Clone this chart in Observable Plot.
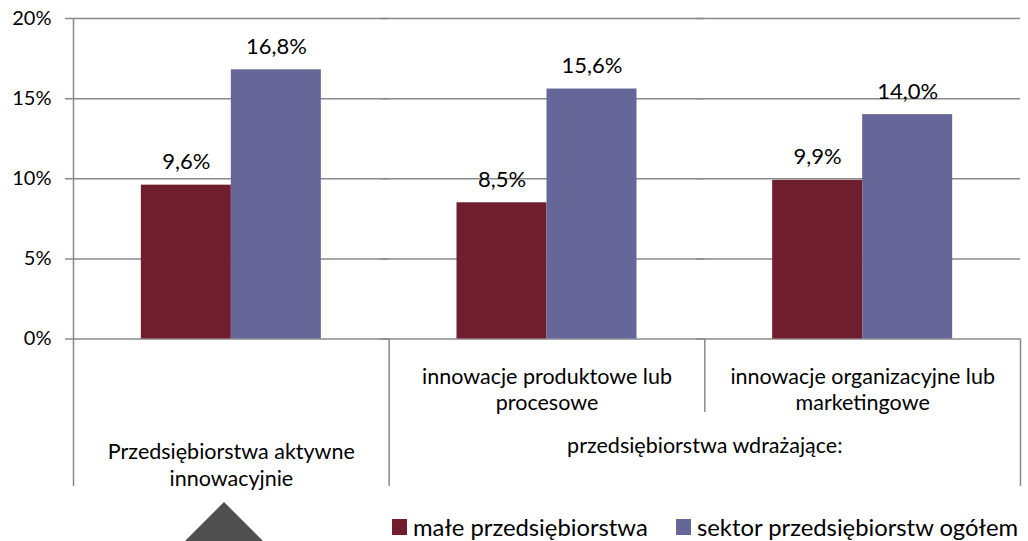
<!DOCTYPE html>
<html>
<head>
<meta charset="utf-8">
<script src="https://cdn.jsdelivr.net/npm/d3@7"></script>
<script src="https://cdn.jsdelivr.net/npm/@observablehq/plot@0.6"></script>
<style>
  html, body { margin: 0; padding: 0; background: #fff; }
  #wrap { position: relative; width: 1028px; height: 541px; overflow: hidden; font-family: Lato, sans-serif; color: #000; }
  #wrap svg { display: block; }
  .leg { position: absolute; top: 512px; height: 30px; line-height: 30px; font-size: 23.8px; white-space: nowrap; display: flex; align-items: center; }
  .leg .sw { display: inline-block; width: 15px; height: 16px; margin-right: 6px; }
  #tri { position: absolute; left: 185px; top: 502px; width: 78px; height: 39px; background: #4f4f4f; clip-path: polygon(50% 0, 100% 100%, 0 100%); }
</style>
</head>
<body>
<div id="wrap"></div>
<script>
// ---- data ----
const categories = [
  "Przedsiębiorstwa aktywne innowacyjnie",
  "innowacje produktowe lub procesowe",
  "innowacje organizacyjne lub marketingowe"
];
const categoryLines = [
  "Przedsiębiorstwa aktywne\ninnowacyjnie",
  "innowacje produktowe lub\nprocesowe",
  "innowacje organizacyjne lub\nmarketingowe"
];
const parentLabel = "przedsiębiorstwa wdrażające:";
const series = ["małe przedsiębiorstwa", "sektor przedsiębiorstw ogółem"];
const smallValues = [9.6, 8.5, 9.9];
const totalValues = [16.8, 15.6, 14.0];
const colors = ["#701d2e", "#666699"];
const yTicks = [0, 5, 10, 15, 20];

const rows = categories.flatMap((c, i) => [
  {category: c, series: series[0], value: smallValues[i]},
  {category: c, series: series[1], value: totalValues[i]}
]);

// ---- layout ----
const W = 1028, H = 541;
const mL = 73, mR = 8, mT = 18, mB = 202.5;
const gw = (W - mL - mR) / categories.length;
const plotH = H - mT - mB;
const gridColor = "#8a8a8a";
const lowExt = 147.5;   // long separators below the axis
const midExt = 73.5;    // short separator between sub-categories
const labelOf = d => categoryLines[categories.indexOf(d)];
const sep = {fx: d => d, x: null, stroke: gridColor, strokeWidth: 1.5};

const chart = Plot.plot({
  width: W, height: H,
  marginLeft: mL, marginRight: mR, marginTop: mT, marginBottom: mB,
  style: {fontFamily: "Lato, sans-serif", fontSize: "20px", color: "#000", background: "transparent", overflow: "visible"},
  fx: {domain: categories, padding: 0, axis: null, round: false},
  x: {domain: series, paddingInner: 0, paddingOuter: (gw / 90 - 2) / 2, axis: null, round: false},
  y: {domain: [0, 20], ticks: yTicks, tickFormat: d => d + "%", tickSize: 0, tickPadding: 22, label: null},
  color: {domain: series, range: colors},
  marks: [
    Plot.ruleY(yTicks, {stroke: gridColor, strokeWidth: 1.5, insetLeft: -8}),
    Plot.barY(rows, {fx: "category", x: "series", y: "value", fill: "series"}),
    Plot.text(rows, {
      fx: "category", x: "series", y: "value",
      text: d => d.value.toFixed(1).replace(".", ",") + "%",
      dy: -23, fontSize: 22
    }),
    // y axis line (continues down as left border of the category table)
    Plot.ruleX([categories[0]], {...sep, dx: -gw / 2, insetBottom: -lowExt}),
    // long separators below the axis
    Plot.ruleX([categories[1]], {...sep, dx: -gw / 2, insetTop: plotH, insetBottom: -lowExt}),
    Plot.ruleX([categories[2]], {...sep, dx: gw / 2, insetTop: plotH, insetBottom: -lowExt}),
    // short separator between the two sub-categories
    Plot.ruleX([categories[2]], {...sep, dx: -gw / 2, insetTop: plotH, insetBottom: -midExt}),
    // sub-category labels (upper row)
    Plot.text(categories.slice(1), {
      fx: d => d, text: labelOf, frameAnchor: "bottom", lineAnchor: "top",
      dy: 26, lineHeight: 1.22, fontSize: 21.5
    }),
    // first category label (lower row)
    Plot.text(categories.slice(0, 1), {
      fx: d => d, text: labelOf, frameAnchor: "bottom", lineAnchor: "top",
      dy: 101, lineHeight: 1.26, fontSize: 21.5
    }),
    // parent label spanning categories 2 and 3
    Plot.text([categories[1]], {
      fx: d => d, text: () => parentLabel, frameAnchor: "bottom-right", textAnchor: "middle",
      lineAnchor: "top", dy: 99, fontSize: 21.5
    })
  ]
});

const wrap = document.getElementById("wrap");
wrap.appendChild(chart);

// legend
const legendLeft = [392, 676];
series.forEach((s, i) => {
  const item = document.createElement("div");
  item.className = "leg";
  item.style.left = legendLeft[i] + "px";
  const sw = document.createElement("span");
  sw.className = "sw";
  sw.style.background = colors[i];
  const tx = document.createElement("span");
  tx.textContent = s;
  item.appendChild(sw);
  item.appendChild(tx);
  wrap.appendChild(item);
});

// decorative triangle seen at bottom-left of the original image
const tri = document.createElement("div");
tri.id = "tri";
wrap.appendChild(tri);
</script>
</body>
</html>
